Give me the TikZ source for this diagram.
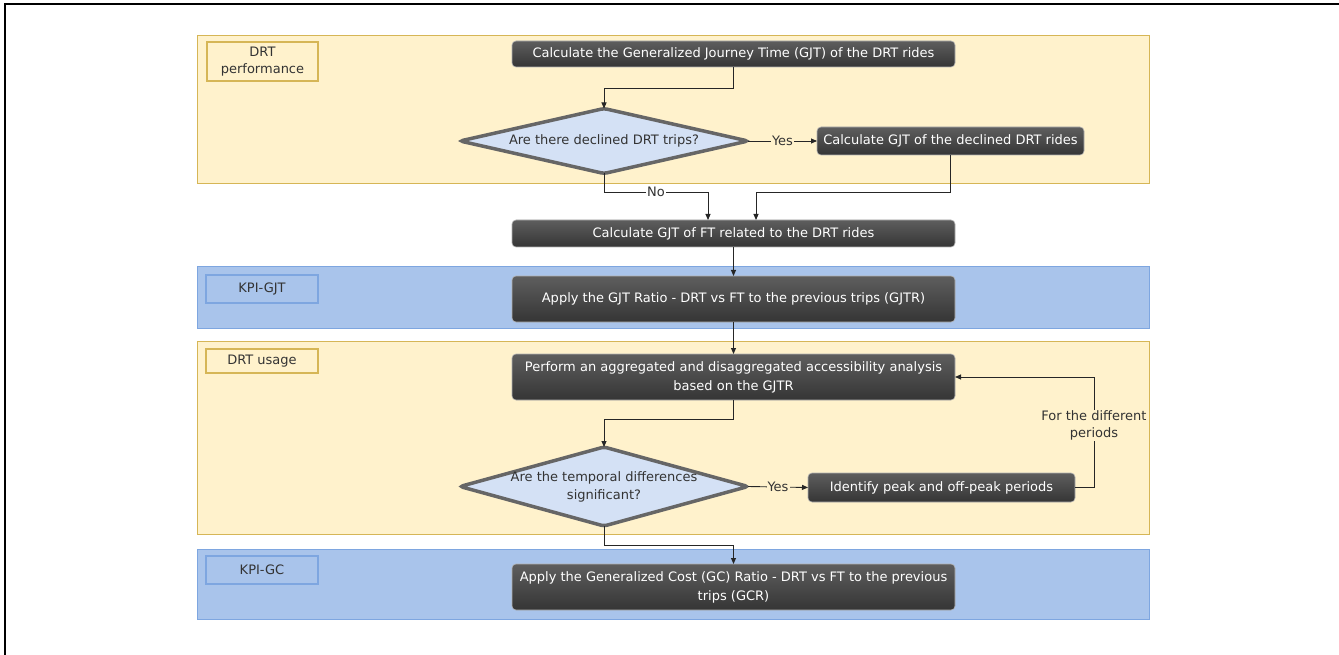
\documentclass[tikz,border=0pt]{standalone}
\usepackage{fontspec}
\setmainfont{DejaVu Sans}
\usetikzlibrary{shapes.geometric,arrows.meta,calc}
\definecolor{yfill}{HTML}{FFF2CC}
\definecolor{yline}{HTML}{D6B656}
\definecolor{bfill}{HTML}{A9C4EB}
\definecolor{bline}{HTML}{7EA6E0}
\definecolor{dfill}{HTML}{D4E1F5}
\definecolor{dline}{HTML}{666666}
\definecolor{txt}{HTML}{333333}
\definecolor{boxtop}{HTML}{5E5E5E}
\definecolor{boxbot}{HTML}{353535}
\tikzset{
  ypanel/.style={rectangle, fill=yfill, draw=yline, line width=0.8pt, inner sep=0pt, outer sep=0pt},
  bpanel/.style={rectangle, fill=bfill, draw=bline, line width=0.8pt, inner sep=0pt, outer sep=0pt},
  ylabel/.style={rectangle, fill=yfill, draw=yline, line width=2pt, inner sep=0pt, align=center,
    text=txt, font=\fontsize{13}{17}\selectfont},
  blabel/.style={rectangle, fill=bfill, draw=bline, line width=2pt, inner sep=0pt, align=center,
    text=txt, font=\fontsize{13}{17}\selectfont},
  darkbox/.style={rectangle, rounded corners=4pt, top color=boxtop, bottom color=boxbot,
    draw=gray!60, line width=0.6pt, inner sep=0pt, outer sep=0pt, align=center, text=white,
    font=\fontsize{13}{19}\selectfont},
  decision/.style={diamond, aspect=4, fill=dfill, draw=dline, line width=3.5pt, rounded corners=3pt,
    inner sep=0pt, outer sep=0pt},
  dtext/.style={align=center, text=txt, font=\fontsize{13}{18}\selectfont, inner sep=0pt},
  arr/.style={-{Triangle[length=6pt,width=5pt]}, line width=0.9pt, draw=black!85},
  lbly/.style={fill=yfill, inner sep=1pt, text=txt, font=\fontsize{13}{17}\selectfont, align=center},
  lblw/.style={fill=white, inner sep=1pt, text=txt, font=\fontsize{13}{15}\selectfont},
}
\begin{document}
\begin{tikzpicture}[x=1pt,y=-1pt]
\useasboundingbox (0,0) rectangle (1339,655);
\fill[white] (0,0) rectangle (1339,655);
% outer frame
\draw[line width=2.2pt, black] (5,655) -- (5,4) -- (1339,4);

% panels
\node[ypanel, minimum width=952pt, minimum height=148pt] (p1) at (673,109) {};
\node[bpanel, minimum width=952pt, minimum height=62pt] (p2) at (673,297) {};
\node[ypanel, minimum width=952pt, minimum height=193pt] (p3) at (673,437.5) {};
\node[bpanel, minimum width=952pt, minimum height=70pt] (p4) at (673,584) {};

% panel labels
\node[ylabel, minimum width=111pt, minimum height=39pt] (l1) at (262.5,61.5) {DRT\\performance};
\node[blabel, minimum width=112pt, minimum height=28pt] (l2) at (262,289) {KPI-GJT};
\node[ylabel, minimum width=112pt, minimum height=24pt] (l3) at (262,361) {DRT usage};
\node[blabel, minimum width=112pt, minimum height=28pt] (l4) at (262,570) {KPI-GC};

% process boxes
\node[darkbox, minimum width=443pt, minimum height=26pt] (b1) at (733.5,54) {Calculate the Generalized Journey Time (GJT) of the DRT rides};
\node[decision, minimum width=288pt, minimum height=65pt,
      label={[dtext]center:Are there declined DRT trips?}] (d1) at (604,141) {};
\node[darkbox, minimum width=267pt, minimum height=28pt] (b2) at (950.5,141) {Calculate GJT of the declined DRT rides};
\node[darkbox, minimum width=443pt, minimum height=27pt] (b3) at (733.5,233.5) {Calculate GJT of FT related to the DRT rides};
\node[darkbox, minimum width=443pt, minimum height=46pt] (b4) at (733.5,299) {Apply the GJT Ratio - DRT vs FT to the previous trips (GJTR)};
\node[darkbox, minimum width=443pt, minimum height=46pt] (b5) at (733.5,377) {Perform an aggregated and disaggregated accessibility analysis\\based on the GJTR};
\node[decision, minimum width=288pt, minimum height=79pt,
      label={[dtext]center:Are the temporal differences\\significant?}] (d2) at (604,486.5) {};
\node[darkbox, minimum width=267pt, minimum height=29pt] (b6) at (941.5,487.5) {Identify peak and off-peak periods};
\node[darkbox, minimum width=443pt, minimum height=46pt] (b7) at (733.5,587) {Apply the Generalized Cost (GC) Ratio - DRT vs FT to the previous\\trips (GCR)};

% bend points
\coordinate (k1) at (604,88);
\coordinate (k3) at (708,192);
\coordinate (k4) at (756,192);
\coordinate (k7) at (604,419);
\coordinate (k9) at (1094,377);
\coordinate (k10) at (733.5,545);

% connectors
\draw[arr] (b1.south) |- (k1) -- (d1.north);
\draw[arr] (d1.east) -- node[lbly]{Yes} (b2.west);
\draw[arr] (d1.south) |- node[lblw, pos=0.75]{No} (k3) -- (k3 |- b3.north);
\draw[arr] (b2.south) |- (k4) -- (k4 |- b3.north);
\draw[arr] (b3.south) -- (b4.north);
\draw[arr] (b4.south) -- (b5.north);
\draw[arr] (b5.south) |- (k7) -- (d2.north);
\draw[arr] (d2.east) -- node[lbly]{Yes} (b6.west);
\draw[arr] (b6.east) -| node[lbly, pos=0.78]{For the different\\periods} (k9) -- (b5.east);
\draw[arr] (d2.south) |- (k10) -- (b7.north);
\end{tikzpicture}
\end{document}
